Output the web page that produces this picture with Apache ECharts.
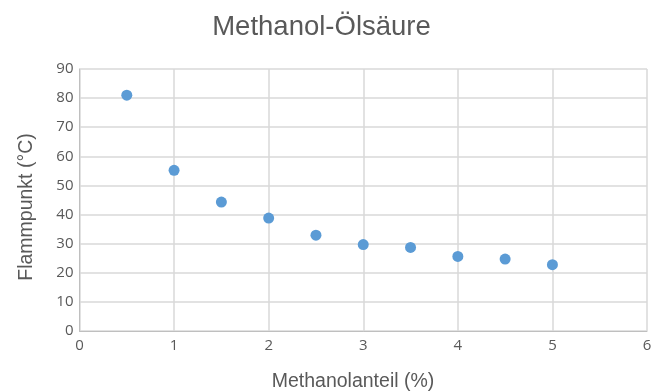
<!DOCTYPE html>
<html>
<head>
<meta charset="utf-8">
<script src="https://cdn.jsdelivr.net/npm/echarts@6/dist/echarts.min.js"></script>
<style>
  html, body { margin: 0; padding: 0; background: #fff; }
  #chart { width: 662px; height: 392px; }
</style>
</head>
<body>
<div id="chart"></div>
<script>
// Methanol share (%) and measured flash point (°C)
const methanolShare = [0.5, 1.0, 1.5, 2.0, 2.5, 3.0, 3.5, 4.0, 4.5, 5.0];
const flashPoint = [81, 55.2, 44.3, 38.8, 32.9, 29.7, 28.7, 25.6, 24.7, 22.8];

const titleText = 'Methanol-Ölsäure';
const xAxisTitle = 'Methanolanteil (%)';
const yAxisTitle = 'Flammpunkt (°C)';

const chart = echarts.init(document.getElementById('chart'));
const textGrey = '#595959';
const gridGrey = '#d9d9d9';
const nameFont = { fontFamily: 'Liberation Sans', fontSize: 19.5, fill: textGrey };

chart.setOption({
  animation: false,
  backgroundColor: '#ffffff',
  grid: { left: 79.5, right: 15, top: 69, bottom: 61 },
  graphic: [
    {
      type: 'text', x: 321.5, y: 27, silent: true,
      style: { text: titleText, fontFamily: 'Liberation Sans', fontSize: 27.5, fill: textGrey,
               textAlign: 'center', textVerticalAlign: 'middle' }
    },
    {
      type: 'text', x: 353, y: 382, silent: true,
      style: Object.assign({ text: xAxisTitle, textAlign: 'center', textVerticalAlign: 'middle' }, nameFont)
    },
    {
      type: 'text', x: 27, y: 207, rotation: Math.PI / 2, silent: true,
      style: Object.assign({ text: yAxisTitle, textAlign: 'center', textVerticalAlign: 'middle' }, nameFont)
    }
  ],
  xAxis: {
    type: 'value',
    min: 0, max: 6, interval: 1,
    axisLine: { show: true, lineStyle: { color: '#bfbfbf', width: 1 } },
    axisTick: { show: false },
    axisLabel: { fontFamily: 'Open Sans', fontSize: 15, color: textGrey, margin: 7 },
    splitLine: { show: true, lineStyle: { color: gridGrey, width: 1.5 } }
  },
  yAxis: {
    type: 'value',
    min: 0, max: 90, interval: 10,
    axisLine: { show: true, lineStyle: { color: '#bfbfbf', width: 1 } },
    axisTick: { show: false },
    axisLabel: { fontFamily: 'Open Sans', fontSize: 15, color: textGrey, margin: 6 },
    splitLine: { show: true, lineStyle: { color: gridGrey, width: 1.5 } }
  },
  series: [{
    type: 'scatter',
    symbol: 'circle',
    symbolSize: 11,
    itemStyle: { color: '#5b9bd5', opacity: 1 },
    data: methanolShare.map((x, i) => [x, flashPoint[i]])
  }]
});
</script>
</body>
</html>
